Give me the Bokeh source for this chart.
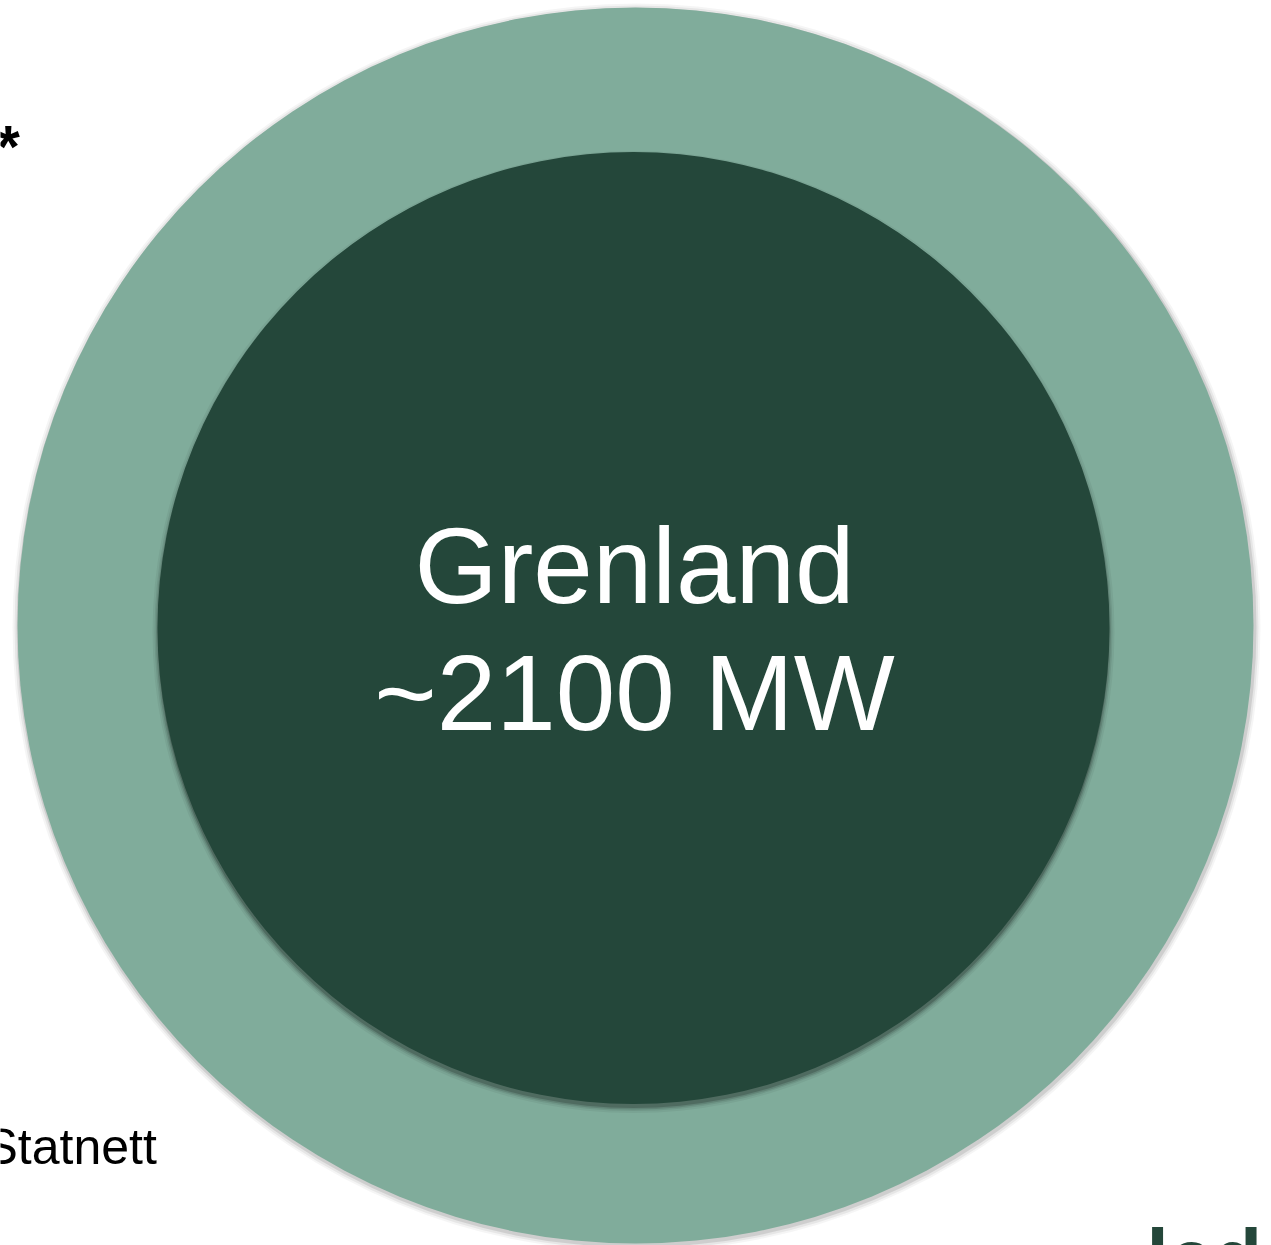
from bokeh.plotting import figure
from bokeh.models import Range1d
from bokeh.core.properties import value
from bokeh.embed import file_html
from bokeh.resources import INLINE

# Regional capacity figures
regions = ["Grenland"]
capacity_mw = [2100]
source_note = "Statnett"
footnote_mark = "*"
brand = "lede"

W, H = 1271, 1245
LIGHT = "#80ac9b"
DARK = "#24473a"

p = figure(width=W, height=H, output_backend="svg", toolbar_location=None,
           x_range=Range1d(0, W), y_range=Range1d(H, 0),
           min_border=0, outline_line_color=None, background_fill_color="white")
p.axis.visible = False
p.grid.visible = False

# outer ring with soft shadow
cx, cy, cr = 635, 625, 618
for dr, a in [(6, 0.04), (4, 0.06), (2, 0.10)]:
    p.circle(x=[cx + 1], y=[cy + 2], radius=cr + dr, fill_color="black",
             fill_alpha=a, line_color=None)
p.circle(x=[cx], y=[cy], radius=cr, fill_color=LIGHT, line_color=None)

# inner disc with a shadow that falls downward
icx, icy, ir = 633, 627.5, 476
for dr, a in [(6, 0.05), (4, 0.08), (2.5, 0.12), (1, 0.18)]:
    p.circle(x=[icx], y=[icy + 4], radius=ir + dr - 1, fill_color="black",
             fill_alpha=a, line_color=None)
p.circle(x=[icx], y=[icy], radius=ir, fill_color=DARK, line_color=None)

labels = [regions[0], "~%d MW" % capacity_mw[0]]
p.text(x=[634, 634], y=[565, 692], text=labels,
       text_font=value("Liberation Sans"), text_font_size="107px",
       text_color="white", text_align="center", text_baseline="alphabetic")

p.text(x=[-4], y=[146], text=[footnote_mark], text_font=value("Liberation Sans"),
       text_font_size="60px", text_font_style="bold", text_color="black",
       text_align="left", text_baseline="alphabetic")
p.text(x=[-16], y=[1146], text=[source_note], text_font=value("Liberation Sans"),
       text_font_size="50px", text_color="black", text_align="left",
       text_baseline="alphabetic")
p.text(x=[1146], y=[1212], text=[brand], text_font=value("Liberation Sans"),
       text_font_size="80px", text_font_style="bold", text_color=DARK,
       text_align="left", text_baseline="top")

open("out.html", "w").write(file_html(p, INLINE))
